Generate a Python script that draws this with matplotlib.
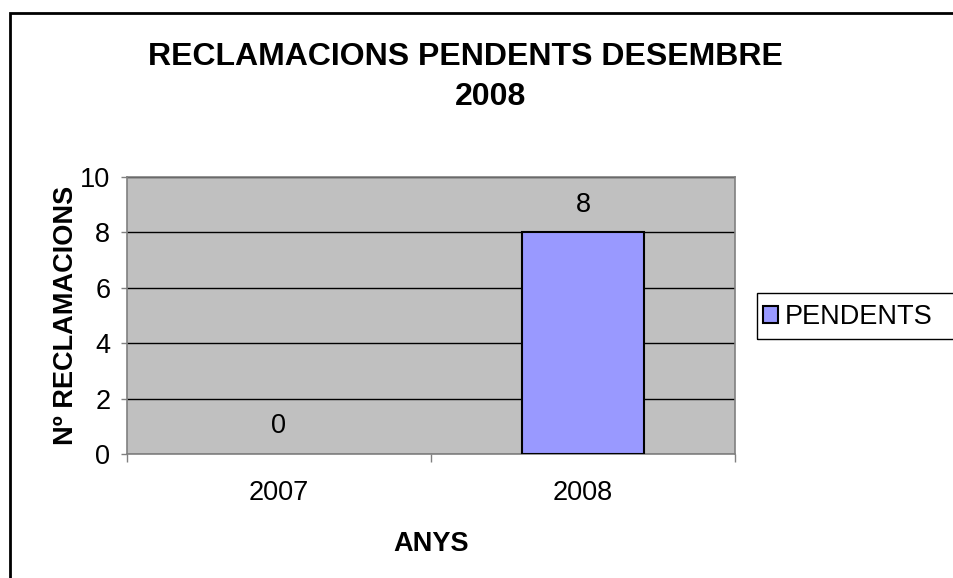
import matplotlib.pyplot as plt
from matplotlib.patches import Rectangle, Patch

# dades
anys = ['2007', '2008']
pendents = [0, 8]
yticks = [0, 2, 4, 6, 8, 10]

plt.rcParams['font.family'] = ['Liberation Sans', 'DejaVu Sans']
FS = 19.5

fig = plt.figure(figsize=(9.54, 5.78), dpi=100)
W, H = 954, 578

# marc exterior (tallat a dreta i a baix)
fig.patches.append(Rectangle((10 / W, -0.05), 1.1, (H - 13) / H + 0.05,
                             transform=fig.transFigure, fill=False,
                             edgecolor='black', linewidth=2))

ax = fig.add_axes([127 / W, 1 - 454 / H, (735 - 127) / W, (454 - 177) / H])
ax.set_facecolor('#C0C0C0')

x = list(range(len(anys)))
bars = ax.bar(x, pendents, width=0.4, color='#9999FF',
              edgecolor=['black' if v else 'none' for v in pendents],
              linewidth=1.5, zorder=3, label='PENDENTS')
for xi, v in zip(x, pendents):
    ax.annotate(str(v), (xi, v), xytext=(0, 20), textcoords='offset points',
                ha='center', va='center', fontsize=FS)

ax.set_xlim(-0.5, len(anys) - 0.5)
ax.set_ylim(0, 10)
ax.set_yticks(yticks)
ax.yaxis.grid(True, color='black', linewidth=1)
ax.set_axisbelow(True)

ax.set_xticks(x)
ax.set_xticklabels(anys, fontsize=FS)
ax.set_xticks([i - 0.5 for i in range(len(anys) + 1)], minor=True)
ax.tick_params(axis='x', which='major', length=0, pad=19)
ax.tick_params(axis='x', which='minor', length=6, color='#808080', width=1)
ax.tick_params(axis='y', length=4, color='#808080', width=1, labelsize=FS, pad=8)

for s in ax.spines.values():
    s.set_color('#808080')
    s.set_linewidth(1.2)

ax.set_xlabel('ANYS', fontsize=FS, fontweight='bold', labelpad=18)
ax.set_ylabel('Nº RECLAMACIONS', fontsize=FS, fontweight='bold', labelpad=1)

fig.text(465 / W, 1 - 57 / H, 'RECLAMACIONS PENDENTS DESEMBRE', ha='center',
         va='center', fontsize=23, fontweight='bold')
fig.text(491 / W, 1 - 97 / H, '2008', ha='center', va='center',
         fontsize=23, fontweight='bold')

# llegenda: el marc continua fins a la vora dreta
fig.patches.append(Rectangle((757 / W, 1 - 339 / H), 0.3, 46 / H,
                             transform=fig.transFigure, fill=False,
                             edgecolor='black', linewidth=1))
fig.legend(handles=[Patch(facecolor='#9999FF', edgecolor='black', linewidth=1.5,
                          label='PENDENTS')],
           loc='center left', bbox_to_anchor=(763 / W, 1 - 317 / H),
           fontsize=FS, frameon=False, borderpad=0,
           handlelength=0.55, handleheight=0.55, handletextpad=0.25,
           borderaxespad=0)

fig.savefig('out.png', dpi=100)
